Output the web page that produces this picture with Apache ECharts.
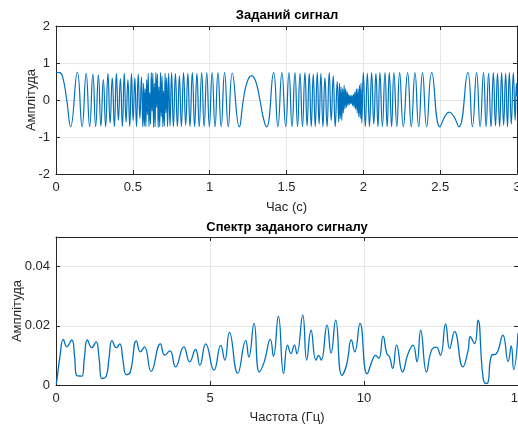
<!DOCTYPE html>
<html>
<head>
<meta charset="utf-8">
<script src="https://cdn.jsdelivr.net/npm/echarts@6/dist/echarts.min.js"></script>
<style>html,body{margin:0;padding:0;background:#fff}#c{width:518px;height:425px}</style>
</head>
<body>
<div id="c"></div>
<script>
// ---- Data ----
var topTitle = 'Заданий сигнал';
var bottomTitle = 'Спектр заданого сигналу';
var topXName = 'Час (с)';
var bottomXName = 'Частота (Гц)';
var yName = 'Амплітуда';

// Signal: [time s, amplitude] at turning points of the trace
var signalPoints = [
[0,0.75],[0.025,0.74],[0.045,0.6],[0.07,0],[0.095,-0.72],
[0.139,0.75],[0.170,-0.72],[0.196,0.72],[0.219,-0.72],[0.240,0.70],[0.258,-0.72],[0.276,0.68],[0.292,-0.70],
[0.308,0.55],[0.323,-0.72],[0.338,0.72],[0.352,-0.62],[0.366,0.60],[0.380,-0.72],[0.393,0.72],[0.406,-0.55],
[0.419,0.58],[0.432,-0.72],[0.444,0.72],[0.456,-0.60],[0.468,0.55],[0.480,-0.72],[0.491,0.72],[0.502,-0.55],
[0.513,0.60],[0.524,-0.72],[0.535,0.70],[0.546,-0.50],[0.556,0.62],[0.565,-0.72],
[0.570,0.45],[0.575,-0.70],[0.580,0.30],[0.585,-0.72],[0.590,0.55],[0.595,-0.40],[0.600,0.72],[0.605,-0.72],
[0.610,0.20],[0.615,-0.65],[0.620,0.74],[0.625,-0.30],[0.630,0.72],[0.635,-0.74],[0.640,0.45],[0.645,-0.72],
[0.650,0.74],[0.655,-0.20],[0.660,0.70],[0.665,-0.74],[0.670,0.35],[0.675,-0.72],[0.680,0.74],[0.685,-0.45],
[0.690,0.65],[0.695,-0.72],[0.700,0.25],[0.705,-0.70],[0.710,0.72],[0.715,-0.35],[0.720,0.60],
[0.726,-0.72],[0.733,0.72],[0.742,-0.70],[0.752,0.74],[0.764,-0.72],[0.777,0.72],[0.790,-0.72],[0.803,0.65],
[0.816,-0.72],[0.830,0.74],[0.844,-0.68],[0.858,0.72],[0.872,-0.72],[0.887,0.74],[0.902,-0.72],[0.917,0.72],
[0.932,-0.72],[0.948,0.74],[0.964,-0.72],[0.981,0.74],[0.998,-0.72],[1.016,0.74],[1.035,-0.72],[1.054,0.74],
[1.075,-0.72],[1.097,0.74],[1.121,-0.72],[1.147,0.73],[1.193,-0.73],
[1.219,0],[1.245,0.5],[1.273,0.66],[1.300,0.5],[1.327,0],[1.350,-0.5],[1.371,-0.73],
[1.416,0.74],[1.444,-0.72],[1.470,0.74],[1.495,-0.72],[1.516,0.74],[1.536,-0.72],[1.555,0.74],[1.572,-0.72],
[1.588,0.72],[1.604,-0.72],[1.620,0.74],[1.634,-0.70],[1.648,0.72],[1.661,-0.72],[1.674,0.70],[1.687,-0.72],
[1.700,0.74],[1.712,-0.65],[1.724,0.72],[1.737,-0.72],[1.750,0.60],[1.764,-0.72],[1.778,0.74],[1.791,-0.55],
[1.804,0.65],[1.817,-0.72],[1.830,0.50],[1.840,-0.60],
[1.845,0.45],[1.850,-0.50],[1.855,0.35],[1.860,-0.55],[1.865,0.30],[1.870,-0.35],[1.875,0.40],[1.880,-0.25],
[1.885,0.30],[1.890,-0.20],[1.895,0.22],[1.900,-0.15],[1.905,0.15],[1.910,-0.12],[1.915,0.12],[1.920,-0.10],
[1.925,0.12],[1.930,-0.15],[1.935,0.15],[1.940,-0.20],[1.945,0.22],[1.950,-0.25],[1.955,0.30],[1.960,-0.35],
[1.965,0.30],[1.970,-0.45],[1.975,0.40],[1.980,-0.50],[1.985,0.45],[1.990,-0.62],
[2.000,0.75],[2.013,-0.72],[2.026,0.72],[2.040,-0.72],[2.054,0.74],[2.068,-0.65],[2.082,0.72],[2.095,-0.72],
[2.108,0.74],[2.124,-0.72],[2.141,0.74],[2.155,-0.72],[2.169,0.74],[2.184,-0.72],[2.199,0.74],[2.218,-0.72],
[2.236,0.74],[2.260,-0.72],[2.288,0.74],[2.312,-0.72],[2.336,0.74],[2.360,-0.72],[2.385,0.74],[2.412,-0.72],
[2.445,0.74],[2.498,-0.73],[2.530,-0.45],[2.559,-0.33],[2.590,-0.45],[2.622,-0.73],
[2.680,0.74],[2.710,-0.72],[2.737,0.74],[2.760,-0.72],[2.782,0.74],[2.799,-0.72],[2.815,0.72],[2.831,-0.72],
[2.846,0.74],[2.860,-0.70],[2.873,0.72],[2.887,-0.72],[2.900,0.74],[2.913,-0.68],[2.926,0.72],[2.938,-0.72],
[2.950,0.74],[2.963,-0.65],[2.976,0.74],[2.988,-0.55],[2.996,0.45],[3.0,0.1]
];

// Spectrum: [frequency Hz, amplitude]
var spectrumPoints = [
[0,0.0005],[0.02,0.001],[0.12,0.009],[0.24,0.0154],[0.35,0.0129],[0.51,0.0152],[0.60,0.010],[0.67,0.0032],
[0.84,0.003],[0.92,0.009],[1.02,0.0152],[1.16,0.0126],[1.30,0.0146],[1.40,0.009],[1.49,0.0022],[1.63,0.003],
[1.72,0.009],[1.82,0.015],[1.96,0.0126],[2.07,0.0139],[2.18,0.008],[2.28,0.0035],[2.41,0.0043],[2.61,0.0149],
[2.74,0.0112],[2.87,0.0129],[3.09,0.0046],[3.39,0.0139],[3.53,0.0101],[3.70,0.0115],[3.88,0.0061],[4.15,0.0129],
[4.34,0.0078],[4.53,0.012],[4.67,0.0067],[4.86,0.0139],[5.13,0.005],[5.35,0.0134],[5.48,0.0084],[5.63,0.0178],
[5.90,0.004],[6.16,0.015],[6.26,0.0094],[6.43,0.0208],[6.60,0.0044],[6.76,0.0078],[6.96,0.0154],[7.06,0.0097],
[7.22,0.0233],[7.39,0.0039],[7.52,0.0135],[7.63,0.0106],[7.74,0.0135],[7.82,0.0106],[8.01,0.0236],[8.14,0.0084],
[8.28,0.0185],[8.44,0.0084],[8.53,0.010],[8.61,0.0084],[8.80,0.0202],[8.93,0.0108],[9.08,0.0219],[9.28,0.0033],
[9.43,0.0066],[9.59,0.0152],[9.70,0.0112],[9.87,0.0208],[10.10,0.0038],[10.29,0.0089],[10.37,0.010],[10.48,0.009],
[10.62,0.0165],[10.74,0.0106],[10.83,0.0095],[10.93,0.0056],[11.06,0.0135],[11.25,0.0044],[11.43,0.0106],[11.59,0.0135],
[11.72,0.0079],[11.84,0.0185],[12.03,0.0044],[12.19,0.0117],[12.35,0.0128],[12.48,0.010],[12.65,0.0206],[12.78,0.0123],
[12.94,0.018],[13.21,0.0061],[13.38,0.0117],[13.45,0.0163],[13.59,0.014],[13.70,0.0219],[13.86,0.003],[13.95,0.0005],
[14.02,0.0007],[14.14,0.010],[14.30,0.0106],[14.51,0.0168],[14.68,0.0079],[14.78,0.0132],[14.86,0.0052],[15.0,0.0175]
];

var topXTicks = {min:0, max:3, interval:0.5};
var topYTicks = {min:-2, max:2, interval:1};
var botXTicks = {min:0, max:15, interval:5};
var botYTicks = {min:0, max:0.05, interval:0.02};

// ---- Chart ----
var FONT = '"Liberation Sans", Arial, Helvetica, sans-serif';
var AX = '#262626';
var GRIDC = '#e6e6e6';
var LINE = '#0072BD';

function mainX(grid, t, name, gap){
  return {gridIndex:grid, type:'value', min:t.min, max:t.max, interval:t.interval,
    axisLine:{show:true,onZero:false,lineStyle:{color:AX,width:1}},
    axisTick:{show:true,inside:true,length:4,lineStyle:{color:AX}},
    splitLine:{show:true,lineStyle:{color:GRIDC,width:1}},
    axisLabel:{color:AX,fontSize:13,fontFamily:FONT,margin:7,showMaxLabel:true,showMinLabel:true,hideOverlap:false},
    name:name,nameLocation:'middle',nameGap:gap,nameMoveOverlap:false,
    nameTextStyle:{color:AX,fontSize:13,fontFamily:FONT}};
}
function mainY(grid, t, name, gap){
  return {gridIndex:grid, type:'value', min:t.min, max:t.max, interval:t.interval,
    axisLine:{show:true,onZero:false,lineStyle:{color:AX,width:1}},
    axisTick:{show:true,inside:true,length:4,lineStyle:{color:AX}},
    splitLine:{show:true,lineStyle:{color:GRIDC,width:1}},
    axisLabel:{color:AX,fontSize:13,fontFamily:FONT,margin:6,showMaxLabel:(t.max % t.interval===0)},
    name:name,nameLocation:'middle',nameGap:gap,nameMoveOverlap:false,
    nameTextStyle:{color:AX,fontSize:13,fontFamily:FONT}};
}
function boxX(grid, t){
  return {gridIndex:grid, type:'value', position:'top', min:t.min, max:t.max, interval:t.interval,
    axisLine:{show:true,onZero:false,lineStyle:{color:AX,width:1}},
    axisTick:{show:true,inside:true,length:4,lineStyle:{color:AX}},
    splitLine:{show:false}, axisLabel:{show:false}};
}
function boxY(grid, t){
  return {gridIndex:grid, type:'value', position:'right', min:t.min, max:t.max, interval:t.interval,
    axisLine:{show:true,onZero:false,lineStyle:{color:AX,width:1}},
    axisTick:{show:true,inside:true,length:4,lineStyle:{color:AX}},
    splitLine:{show:false}, axisLabel:{show:false}};
}

var chart = echarts.init(document.getElementById('c'), null, {renderer:'canvas'});
chart.setOption({
  animation:false,
  backgroundColor:'#ffffff',
  grid:[
    {left:56, top:26, width:461, height:148, containLabel:false, outerBoundsMode:'none'},
    {left:56, top:237, width:462, height:148, containLabel:false, outerBoundsMode:'none'}
  ],
  xAxis:[
    mainX(0, topXTicks, topXName, 27),
    mainX(1, botXTicks, bottomXName, 26),
    boxX(0, topXTicks),
    boxX(1, botXTicks)
  ],
  yAxis:[
    mainY(0, topYTicks, yName, 18),
    mainY(1, botYTicks, yName, 32),
    boxY(0, topYTicks),
    boxY(1, botYTicks)
  ],
  graphic:[
    {type:'text', x:287, y:15, style:{text:topTitle, textAlign:'center', textVerticalAlign:'middle',
      font:'bold 13px ' + FONT, fill:'#000'}},
    {type:'text', x:287, y:227, style:{text:bottomTitle, textAlign:'center', textVerticalAlign:'middle',
      font:'bold 13px ' + FONT, fill:'#000'}}
  ],
  series:[
    {type:'line', xAxisIndex:0, yAxisIndex:0, data:signalPoints, smooth:0.5, showSymbol:false,
      lineStyle:{color:LINE,width:1.2}, sampling:null, clip:true},
    {type:'line', xAxisIndex:1, yAxisIndex:1, data:spectrumPoints, smooth:0.5, showSymbol:false,
      lineStyle:{color:LINE,width:1.3}, clip:true}
  ]
});
</script>
</body>
</html>
